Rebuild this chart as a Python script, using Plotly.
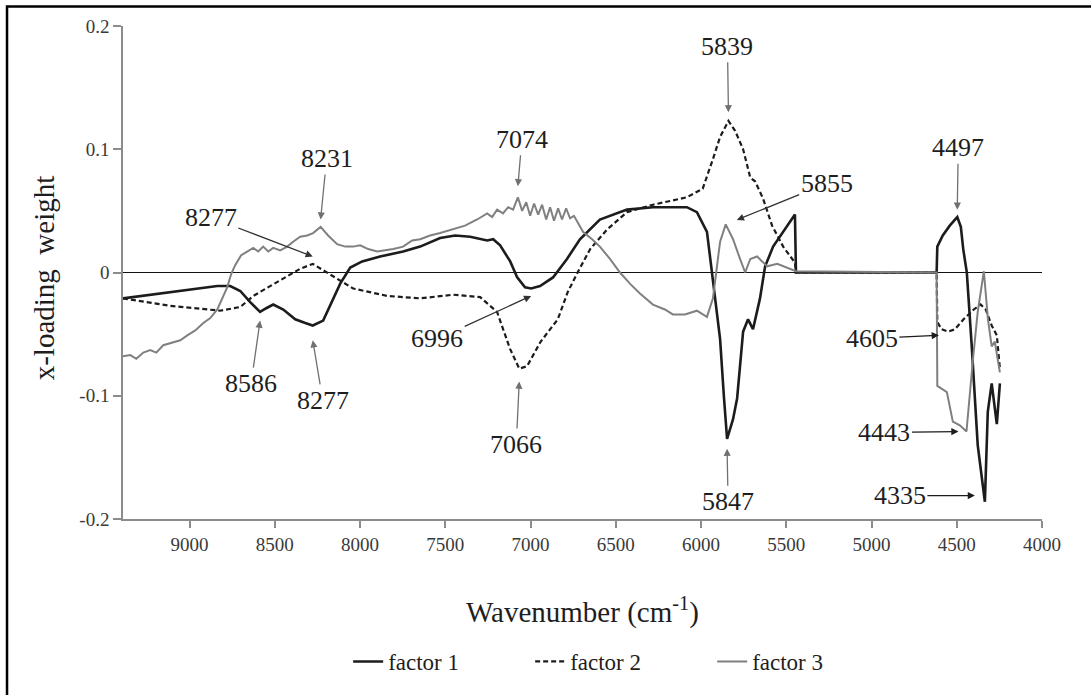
import plotly.graph_objects as go

# ---- x-loading weights of the three PLS factors ----
factor1_wn = [9390, 9230, 9054, 8837, 8761, 8702, 8644, 8586, 8550, 8509, 8450, 8380, 8321, 8277,
              8216, 8175, 8116, 8057, 7987, 7882, 7747, 7647, 7530, 7442, 7354, 7254, 7219, 7178,
              7119, 7078, 7032, 6996, 6944, 6868, 6786, 6710, 6593, 6434, 6282, 6083, 6024, 5965,
              5930, 5888, 5865, 5847, 5812, 5788, 5753, 5724, 5695, 5654, 5624, 5577, 5449, 5443,
              4618, 4614, 4582, 4541, 4497, 4476, 4462, 4441, 4412, 4377, 4335, 4318, 4295, 4265, 4247]
factor1_w = [-0.021, -0.018, -0.015, -0.011, -0.011, -0.015, -0.024, -0.032, -0.029, -0.026, -0.030,
             -0.038, -0.041, -0.043, -0.039, -0.027, -0.009, 0.004, 0.009, 0.013, 0.017, 0.021, 0.028,
             0.030, 0.029, 0.026, 0.027, 0.022, 0.009, -0.004, -0.012, -0.013, -0.011, -0.004, 0.011,
             0.027, 0.043, 0.051, 0.053, 0.053, 0.049, 0.033, -0.005, -0.054, -0.102, -0.135, -0.119,
             -0.102, -0.048, -0.038, -0.046, -0.021, 0.005, 0.021, 0.047, 0.0, 0.0, 0.021, 0.030,
             0.038, 0.045, 0.037, 0.019, 0.0, -0.060, -0.140, -0.186, -0.113, -0.090, -0.123, -0.090]

factor2_wn = [9390, 9113, 8820, 8702, 8626, 8485, 8351, 8277, 8157, 8040, 7841, 7647, 7454, 7295,
              7196, 7120, 7066, 7020, 6940, 6840, 6782, 6724, 6650, 6550, 6434, 6282, 6083, 5990,
              5930, 5888, 5839, 5800, 5753, 5711, 5683, 5636, 5583, 5518, 5449, 5443, 4618, 4614,
              4590, 4550, 4510, 4460, 4400, 4360, 4330, 4295, 4265, 4247]
factor2_w = [-0.021, -0.027, -0.031, -0.028, -0.019, -0.008, 0.003, 0.007, -0.003, -0.013, -0.019,
             -0.021, -0.018, -0.020, -0.032, -0.062, -0.078, -0.076, -0.056, -0.038, -0.016, 0.0,
             0.019, 0.035, 0.049, 0.055, 0.061, 0.068, 0.092, 0.110, 0.123, 0.115, 0.100, 0.077,
             0.074, 0.060, 0.038, 0.021, 0.008, 0.0, 0.0, -0.040, -0.046, -0.048, -0.046, -0.038,
             -0.030, -0.026, -0.030, -0.043, -0.051, -0.078]

factor3_wn = [9390, 9347, 9312, 9271, 9230, 9195, 9154, 9101, 9054, 9013,
              8966, 8919, 8878, 8837, 8808, 8779, 8755, 8732, 8697, 8661,
              8626, 8597, 8568, 8538, 8509, 8468, 8427, 8392, 8351, 8310,
              8275, 8231, 8187, 8134, 8087, 8040, 7999, 7952, 7899, 7852,
              7805, 7747, 7694, 7647, 7589, 7530, 7454, 7384, 7313, 7254,
              7225, 7196, 7161, 7131, 7102, 7074, 7049, 7025, 7002, 6979,
              6955, 6932, 6908, 6885, 6862, 6838, 6815, 6791, 6768, 6745,
              6692, 6639, 6593, 6534, 6475, 6417, 6358, 6282, 6212, 6165,
              6094, 6024, 5989, 5965, 5930, 5888, 5855, 5812, 5771, 5741,
              5711, 5671, 5641, 5612, 5553, 5495, 5443, 4618, 4614, 4558,
              4541, 4523, 4482, 4443, 4406, 4377, 4341, 4317, 4295, 4277,
              4247]
factor3_w = [-0.068, -0.067, -0.070, -0.065, -0.063, -0.065, -0.059, -0.057, -0.055, -0.051,
             -0.047, -0.041, -0.037, -0.030, -0.021, -0.012, -0.001, 0.006, 0.014, 0.017,
             0.020, 0.017, 0.021, 0.017, 0.020, 0.018, 0.021, 0.025, 0.029, 0.030,
             0.032, 0.037, 0.030, 0.023, 0.021, 0.021, 0.022, 0.019, 0.017, 0.018,
             0.019, 0.021, 0.026, 0.027, 0.030, 0.032, 0.035, 0.038, 0.043, 0.048,
             0.045, 0.051, 0.048, 0.053, 0.051, 0.061, 0.050, 0.057, 0.046, 0.056,
             0.047, 0.055, 0.043, 0.053, 0.042, 0.052, 0.043, 0.052, 0.044, 0.046,
             0.033, 0.027, 0.021, 0.011, 0.0, -0.009, -0.017, -0.026, -0.030, -0.034,
             -0.034, -0.031, -0.034, -0.036, -0.021, 0.025, 0.039, 0.027, 0.011, 0.0,
             0.011, 0.013, 0.009, 0.005, 0.007, 0.004, 0.001, 0.0, -0.092, -0.097,
             -0.108, -0.121, -0.124, -0.129, -0.072, -0.032, 0.001, -0.038, -0.060, -0.056,
             -0.081]

series_names = ["factor 1", "factor 2", "factor 3"]

# ---- band labels (wavenumber) and the loading level their arrows point at ----
band_wn = [8231, 8277, 8586, 8277, 7074, 7066, 6996, 5839, 5855, 5847, 4497, 4605, 4443, 4335]
band_tip = [0.043, 0.013, -0.039, -0.055, 0.070, -0.0885, -0.019, 0.130, 0.039, -0.143,
            0.051, -0.051, -0.129, -0.181]

x_ticks = [9000, 8500, 8000, 7500, 7000, 6500, 6000, 5500, 5000, 4500, 4000]
y_ticks = [-0.2, -0.1, 0, 0.1, 0.2]
y_tick_text = ["-0.2", "-0.1", "0", "0.1", "0.2"]

SERIF = "Liberation Serif"

fig = go.Figure()
fig.add_trace(go.Scatter(x=factor1_wn, y=factor1_w, mode="lines", name=series_names[0],
                         line=dict(color="#1c1c1c", width=2.6)))
fig.add_trace(go.Scatter(x=factor2_wn, y=factor2_w, mode="lines", name=series_names[1],
                         line=dict(color="#1c1c1c", width=2.2, dash="5px,3px")))
fig.add_trace(go.Scatter(x=factor3_wn, y=factor3_w, mode="lines", name=series_names[2],
                         line=dict(color="#808080", width=2.0)))

# arrow layout per label: (text offset x, text offset y, standoff, arrow colour)
arrow_style = [
    (6, -61, 0, "#707070"),
    (-102, -39, 0, "#333333"),
    (-9, 63, 0, "#707070"),
    (10, 60, 0, "#707070"),
    (4, -47, 0, "#707070"),
    (-3, 63, 0, "#707070"),
    (-94, 43, 0, "#333333"),
    (-1, -66, 0, "#707070"),
    (101, -41, 12, "#333333"),
    (1, 53, 0, "#707070"),
    (1, -62, 0, "#707070"),
    (-67, 3, 0, "#1c1c1c"),
    (-82, 1, 8, "#1c1c1c"),
    (-85, 0, 10, "#1c1c1c"),
]

annotations = []
for wn, tip, (ax, ay, so, col) in zip(band_wn, band_tip, arrow_style):
    annotations.append(dict(
        x=wn, y=tip, xref="x", yref="y", text=str(wn), showarrow=True,
        ax=ax, ay=ay, standoff=so, arrowhead=2, arrowsize=1.1, arrowwidth=1.3,
        arrowcolor=col, font=dict(family=SERIF, size=26, color="#1e1e1e"),
    ))

# axis titles
annotations.append(dict(text="Wavenumber (cm<sup>-1</sup>)", xref="paper", yref="paper",
                        x=0.5, y=-0.185, xanchor="center", yanchor="middle", showarrow=False,
                        font=dict(family=SERIF, size=29, color="#1e1e1e")))
annotations.append(dict(text="x-loading\u00a0\u00a0weight", xref="paper", yref="paper",
                        x=-0.085, y=0.49, xanchor="center", yanchor="middle", showarrow=False,
                        textangle=-90, font=dict(family=SERIF, size=29, color="#1e1e1e")))

fig.update_layout(
    width=1091, height=695,
    margin=dict(l=123, r=49, t=26, b=174),
    paper_bgcolor="white", plot_bgcolor="white",
    font=dict(family=SERIF, color="#1e1e1e"),
    showlegend=True,
    legend=dict(orientation="h", x=0.245, xanchor="left", y=-0.289, yanchor="middle",
                font=dict(family=SERIF, size=23, color="#1e1e1e"),
                entrywidth=137, entrywidthmode="pixels", bgcolor="rgba(0,0,0,0)"),
    annotations=annotations,
    shapes=[dict(type="rect", xref="paper", yref="paper", x0=-0.1262, x1=1.2, y0=-0.6, y1=1.0394,
                 line=dict(color="black", width=2.5), fillcolor="rgba(0,0,0,0)", layer="above")],
)

fig.update_xaxes(range=[9390, 4000], tickvals=x_ticks, ticktext=[str(v) for v in x_ticks],
                 showgrid=False, zeroline=False, showline=True, linecolor="#8c8c8c", linewidth=1.5,
                 ticks="outside", ticklen=7, tickcolor="#8c8c8c", tickwidth=1.5,
                 tickfont=dict(family=SERIF, size=19, color="#3a3a3a"))
fig.update_yaxes(range=[-0.2, 0.2], tickvals=y_ticks, ticktext=y_tick_text,
                 showgrid=False, zeroline=True, zerolinecolor="#111111", zerolinewidth=1.4,
                 showline=True, linecolor="#8c8c8c", linewidth=1.5,
                 ticks="outside", ticklen=8, tickcolor="#8c8c8c", tickwidth=1.5,
                 tickfont=dict(family=SERIF, size=19, color="#3a3a3a"))

fig.write_html("out.html")
